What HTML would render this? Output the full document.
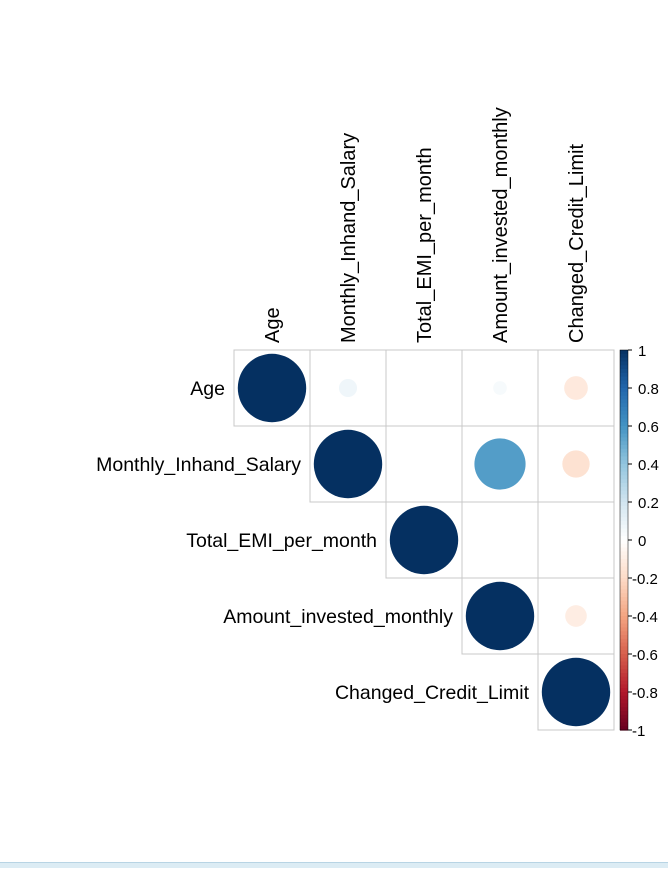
<!DOCTYPE html>
<html><head><meta charset="utf-8"><style>
body{margin:0;width:668px;height:867px;background:#fff;overflow:hidden;font-family:"Liberation Sans",Arial,sans-serif}
</style></head><body>
<svg id="chart" width="668" height="867" xmlns="http://www.w3.org/2000/svg"></svg>
<div style="position:absolute;left:0;top:862px;width:668px;height:5px;background:#dcecf4;border-top:1px solid #b8d4e4"></div>
<script>
const vars=["Age","Monthly_Inhand_Salary","Total_EMI_per_month","Amount_invested_monthly","Changed_Credit_Limit"];
const corr=[
[1,0.07,0.0,0.04,-0.12],
[0.07,1,0.001,0.56,-0.16],
[0.0,0.001,1,0.0,0.0],
[0.04,0.56,0.0,1,-0.1],
[-0.12,-0.16,0.0,-0.1,1]];
const legendTicks=[1,0.8,0.6,0.4,0.2,0,-0.2,-0.4,-0.6,-0.8,-1];
const pal=["#67001F","#B2182B","#D6604D","#F4A582","#FDDBC7","#FFFFFF","#D1E5F0","#92C5DE","#4393C3","#2166AC","#053061"];
const svg=document.getElementById('chart');const NS="http://www.w3.org/2000/svg";
const x0=234,y0=350,cs=76;
function hex(h){return [1,3,5].map(i=>parseInt(h.substr(i,2),16));}
function col(v){let t=(v+1)/2*10;let i=Math.min(9,Math.floor(t));let f=t-i;let a=hex(pal[i]),b=hex(pal[i+1]);return "rgb("+a.map((c,k)=>Math.round(c+(b[k]-c)*f)).join(",")+")";}
function el(tag,at){const e=document.createElementNS(NS,tag);for(const k in at)e.setAttribute(k,at[k]);svg.appendChild(e);return e;}
const yScale=v=>y0+(1-v)/2*(cs*5);
for(let i=0;i<5;i++){for(let j=i;j<5;j++){
 const r=el('rect',{x:x0+j*cs,y:y0+i*cs,width:cs,height:cs,fill:'none',stroke:'#c8c8c8','stroke-width':1});
 
 
 const v=corr[i][j];
 const c=el('circle',{cx:x0+j*cs+cs/2,cy:y0+i*cs+cs/2,r:0.45*Math.sqrt(Math.abs(v))*cs,fill:col(v)});
 
 
}}
vars.forEach((n,i)=>{
 const t=el('text',{x:x0+i*cs-9,y:y0+i*cs+cs/2+7,'text-anchor':'end','font-size':19.5,fill:'#000'});t.textContent=n;
 
 
 const cx=x0+i*cs+cs/2+7;
 const u=el('text',{x:cx,y:343,transform:'rotate(-90 '+cx+' 343)','font-size':20,fill:'#000'});u.textContent=n;
 
 
});
const N=100;
for(let k=0;k<N;k++){const v=1-2*k/N;const r=el('rect',{x:620,y:yScale(v),width:8,height:cs*5/N+0.6,fill:col(v-1/N)});
 
 }
const fr=el('rect',{x:620,y:y0,width:8,height:cs*5,fill:'none',stroke:'#000','stroke-width':0.5});


legendTicks.forEach(v=>{const y=yScale(v);
 const l=el('line',{x1:628,x2:632,y1:y,y2:y,stroke:'#000'});
 
 
 const t=el('text',{x:v<0?632:638,y:y+6,'font-size':15,fill:'#000'});t.textContent=String(v);
 
 });
</script>
</body></html>
